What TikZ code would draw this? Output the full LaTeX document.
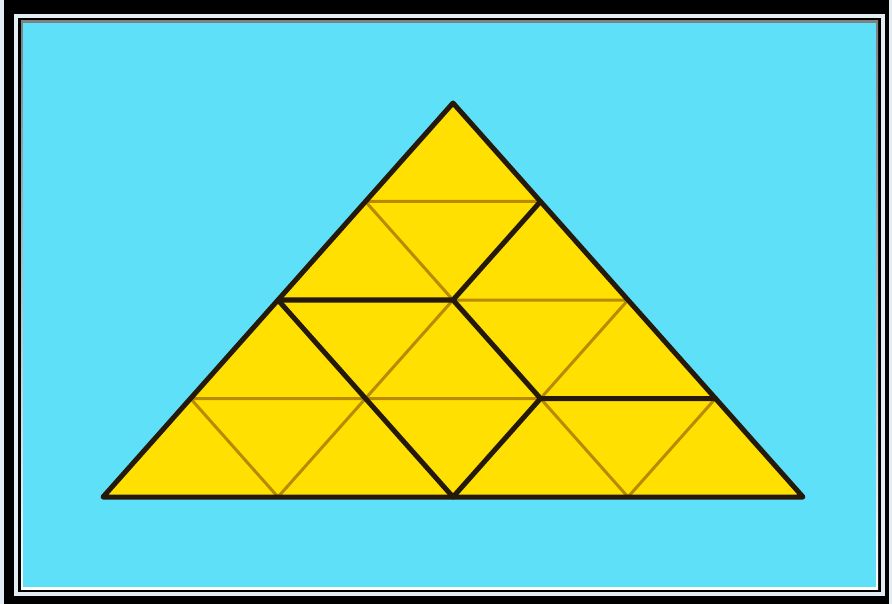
\documentclass[tikz,border=0pt]{standalone}
\definecolor{bgc}{HTML}{5EE1F8}
\definecolor{yel}{HTML}{FFE000}
\definecolor{thinc}{HTML}{B88A00}
\definecolor{thickc}{HTML}{24190A}
\definecolor{framew}{HTML}{E4ECF4}
\definecolor{shade}{HTML}{1E6E7A}
\begin{document}
\begin{tikzpicture}[x=1pt,y=-1pt,
  thinline/.style={draw=thinc,line width=3pt,line cap=round},
  thickline/.style={draw=thickc,line width=5pt,line cap=round,line join=round}]
\useasboundingbox (0,0) rectangle (892,604);
% frame
\fill[framew] (0,0) rectangle (892,604);
\fill[black] (4,0) rectangle (889,604);
\fill[framew] (14,14) rectangle (885,596);
\fill[black] (18,18) rectangle (881,592);
\fill[shade] (21,21) rectangle (878,589);
\fill[bgc] (23,23) rectangle (876,587);
% lattice points
\foreach \k in {0,...,4}{
  \foreach \j in {0,...,\k}{
    \coordinate (p\k\j) at ({453-87.5*\k+175*\j},{103+98.5*\k});
  }
}
% yellow triangle
\fill[yel] (p00) -- (p40) -- (p44) -- cycle;
% thin grid
\draw[thinline] (p10)--(p11) (p20)--(p22) (p30)--(p33)
  (p10)--(p43) (p20)--(p42) (p30)--(p41)
  (p11)--(p41) (p22)--(p42) (p33)--(p43);
% thick piece outlines
\draw[thickline] (p00)--(p40)--(p44)--cycle;
\draw[thickline] (p20)--(p21)--(p11);
\draw[thickline] (p20)--(p42)--(p32)--(p33);
\draw[thickline] (p21)--(p32);
\end{tikzpicture}
\end{document}
